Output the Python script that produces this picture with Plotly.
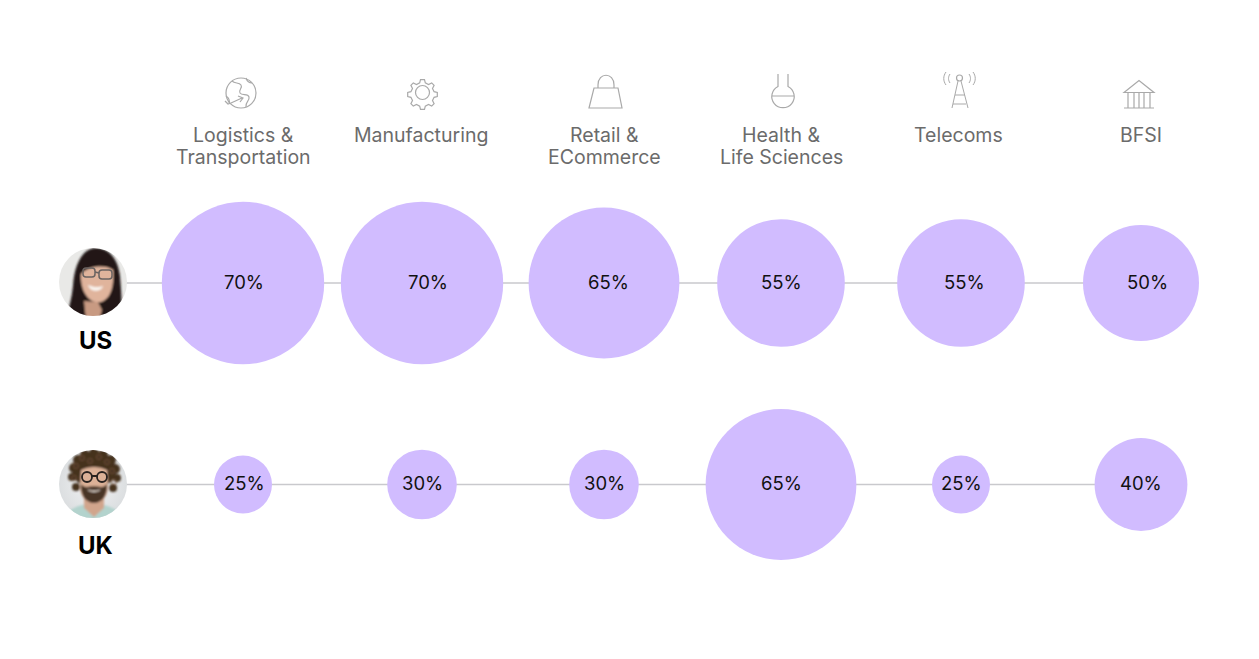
import base64
import plotly.graph_objects as go

# sector columns
sectors = ['Logistics &<br>Transportation', 'Manufacturing', 'Retail &<br>ECommerce',
           'Health &<br>Life Sciences', 'Telecoms', 'BFSI']
rows = ['US', 'UK']
us_values = [70, 70, 65, 55, 55, 50]
uk_values = [25, 30, 30, 65, 25, 40]

W, H = 1259, 659
PURPLE = '#d1bcff'
LINE = '#c9c9cd'
GREY = '#6b6b6b'
FONT = 'Inter'

# column 0 sits at 243px, columns are 179.6px apart, rows at 283 and 484.5
PX_PER_COL = 179.6
PX_PER_ROW = 201.5
x_range = [-243 / PX_PER_COL, (W - 243) / PX_PER_COL]
y_range = [(H - 283) / PX_PER_ROW, -283 / PX_PER_ROW]
avatar_x = (93 - 243) / PX_PER_COL

# columns of the original are not perfectly even (px)
col_offset = [0, -0.6, 1.8, -0.8, -0.4, 0]
# text in the original is not quite centred on the circles
us_nudge = [1, 6, 4, 0, 3, 6]
uk_nudge = [1, 0, 0, 0, 0, 0]
head_nudge = [0, -1.5, 0, 0, -3, 0]

# curls of the UK portrait
curls = ''.join(f'<circle cx="{cx}" cy="{cy}" r="{r}"/>' for cx, cy, r in [
    (74, 468, 5), (72, 477, 4), (76, 487, 4), (78, 460, 5), (85, 455, 5), (94, 453, 5),
    (103, 455, 5), (111, 460, 5), (115, 469, 5), (117, 478, 4), (113, 488, 4),
])
highlights = ''.join(f'<circle cx="{cx}" cy="{cy}" r="2.500"/>' for cx, cy in [
    (76, 466), (82, 458), (90, 461), (99, 457), (107, 462), (112, 471), (74, 478), (114, 482),
])

overlay = f'''<svg xmlns="http://www.w3.org/2000/svg" width="{W}" height="{H}" viewBox="0 0 {W} {H}">
<defs>
<clipPath id="a"><circle cx="93" cy="282" r="34"/></clipPath>
<clipPath id="b"><circle cx="93" cy="484" r="34"/></clipPath>
<filter id="s"><feGaussianBlur stdDeviation="0.8"/></filter>
<radialGradient id="bg2"><stop offset="0" stop-color="#f2f3f4"/><stop offset="1" stop-color="#d9dcde"/></radialGradient>
</defs>
<g fill="none" stroke="#a9a9a9" stroke-width="1.2">
<circle cx="241" cy="93" r="15"/>
<path d="M232 81c3 3 7 1 9 4s-3 5-1 8 8 0 9 4-4 5-3 10M252 83c-3 0-5-2-6-5M226 96c3 2 4 5 3 8M225 101l3 3 3-1 11-5M238 96l5 2-3 4"/>
<path d="M420 77h5l1 4 4 2 4-2 3 3-2 4 2 4 4 1v5l-4 1-2 4 2 4-3 3-4-2-4 2-1 4h-5l-1-4-4-2-4 2-3-3 2-4-2-4-4-1v-5l4-1 2-4-2-4 3-3 4 2 4-2z" transform="translate(422.500 92.500) scale(.8) translate(-422.500 -93)" stroke-width="1.500"/>
<circle cx="422.500" cy="92.500" r="7"/>
<path d="M594 88h24l4 20h-33zM598 88v-3c0-13 16-13 16 0v3"/>
<path d="M778 74v12.500a11.200 11.200 0 1 0 10 0v-12.500M772 96h22"/>
<circle cx="959.500" cy="78" r="3"/>
<path d="M958 81l-6 27M961 81l7 27M955 95h10M953 104h13M950 74c-2 3-2 6 0 9M969 74c2 3 2 6 0 9M946 72c-3 4-3 9 0 13M973 72c3 4 3 9 0 13" stroke-width="1"/>
<path d="M1124 92.500l15-12 15 12zM1124 108h30M1128 108v-15M1134 108v-15M1139 108v-15M1144 108v-15M1150 108v-15"/>
</g>
<g clip-path="url(#a)">
<rect x="55" y="244" width="76" height="76" fill="#e9e9e7"/>
<g filter="url(#s)">
<path d="M66 322c2-12 6-24 7-36 1-20 9-38 23-38s22 12 24 28c1 14 3 30 0 46z" fill="#211917"/>
<path d="M81 274c7-8 24-10 32-4 1 14-1 28-12 32-11 3-21-10-20-28z" fill="#e0b49c"/>
<path d="M84 301l14 1 4 8-3 10h-13z" fill="#c89a82"/>
<path d="M88 285c5 2 10 3 15 1-1 6-13 7-15-1z" fill="#f9f4ef"/>
</g>
<g fill="none" stroke="#6a6361" stroke-width="1.500">
<rect x="83" y="268" width="12" height="9" rx="3"/>
<rect x="99" y="270" width="13" height="9" rx="3"/>
<path d="M95 272l4 1"/>
</g>
</g>
<g clip-path="url(#b)">
<rect x="55" y="446" width="76" height="76" fill="url(#bg2)"/>
<g filter="url(#s)">
<path d="M62 520c4-10 16-16 31-16s28 6 32 16v4h-63z" fill="#b3d3cd"/>
<path d="M84 498h20v10l-10 9-10-9z" fill="#d1a58c"/>
<ellipse cx="94" cy="470" rx="22" ry="18" fill="#45301f"/>
<g fill="#45301f">{curls}</g>
<g fill="none" stroke="#6f4f38">{highlights}</g>
<path d="M81 470c8-4 18-4 26 0l1 17c0 10-7 16-14 16s-14-6-14-16z" fill="#dcb197"/>
<path d="M81 484c2 2 3 3 6 3 4-1 10-1 14 0 3 0 4-1 6-3 1 11-5 19-13 19s-14-8-13-19z" fill="#4a3426"/>
<path d="M87 489c4 2 10 2 14 0-2 4-12 4-14 0z" fill="#efe7df"/>
</g>
<g fill="none" stroke="#2a2320" stroke-width="1.800">
<circle cx="87" cy="477" r="5"/>
<circle cx="102" cy="477" r="5"/>
<path d="M92 476h5"/>
</g>
</g>
</svg>'''
overlay_src = 'data:image/svg+xml;base64,' + base64.b64encode(overlay.encode()).decode()

fig = go.Figure()

columns = [c + off / PX_PER_COL for c, off in enumerate(col_offset)]
for i, (row, values) in enumerate(zip(rows, [us_values, uk_values])):
    fig.add_trace(go.Scatter(
        x=[avatar_x, columns[-1]], y=[i, i], mode='lines',
        line=dict(color=LINE, width=1.3), hoverinfo='skip', showlegend=False,
    ))
    fig.add_trace(go.Scatter(
        x=columns, y=[i] * len(columns), mode='markers', name=row,
        marker=dict(size=values, sizemode='diameter', sizeref=1 / 2.32,
                    color=PURPLE, opacity=1, line=dict(width=0)),
        showlegend=False,
    ))

annotations = []
for col, name, nudge in zip(columns, sectors, head_nudge):
    # lines placed one by one, the original has tighter leading than plotly gives
    for k, part in enumerate(name.split('<br>')):
        annotations.append(dict(x=col, y=1 - (135 + 22 * k) / H, yref='paper', yanchor='middle',
                                xanchor='center', text=part, showarrow=False, xshift=nudge,
                                font=dict(family=FONT, size=19.5, color=GREY)))
for i, (values, nudges) in enumerate([(us_values, us_nudge), (uk_values, uk_nudge)]):
    for col, v, nudge in zip(columns, values, nudges):
        annotations.append(dict(x=col, y=i, text=f'{v}%', showarrow=False, xshift=nudge,
                                yshift=1 if i == 0 else 2,
                                font=dict(family=FONT, size=18.5, color='#111111')))
for row, py in zip(rows, [340, 545]):
    annotations.append(dict(x=95, xref='x2', y=1 - py / H, yref='paper', yanchor='middle',
                            text=f'<b>{row}</b>', showarrow=False,
                            font=dict(family=FONT, size=24, color='#000000')))

fig.update_layout(
    width=W, height=H, margin=dict(l=0, r=0, t=0, b=0),
    paper_bgcolor='white', plot_bgcolor='white', showlegend=False,
    xaxis=dict(range=x_range, visible=False, fixedrange=True),
    yaxis=dict(range=y_range, visible=False, fixedrange=True),
    xaxis2=dict(range=[0, W], visible=False, overlaying='x', fixedrange=True),
    annotations=annotations,
    images=[dict(source=overlay_src, xref='paper', yref='paper', x=0, y=1,
                 sizex=1, sizey=1, xanchor='left', yanchor='top', sizing='stretch', layer='above')],
)
fig.write_html('out.html', config={'displayModeBar': False},
               post_script="document.body.style.margin='0';")
